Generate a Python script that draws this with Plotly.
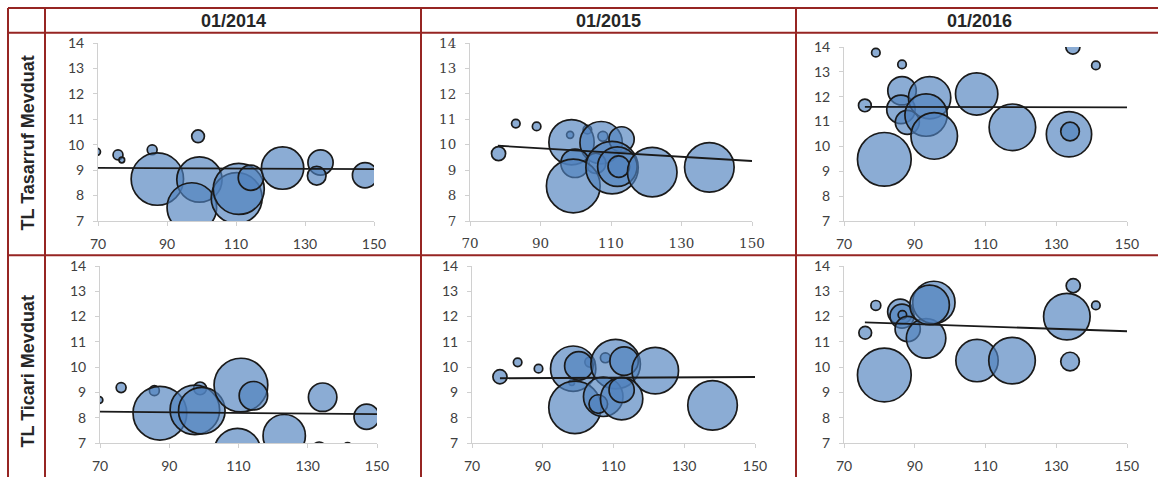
import plotly.graph_objects as go

W, H = 1158, 477

# ---------------- data ----------------
col_titles = ["01/2014", "01/2015", "01/2016"]
row_titles = ["TL Tasarruf Mevduat", "TL Ticari Mevduat"]

x_tas_2014 = [69.7, 75.8, 76.9, 85.7, 99.0, 87.2, 99.4, 97.2, 110.2, 110.8, 114.3, 123.5, 134.5, 133.4, 147.4]
y_tas_2014 = [9.72, 9.60, 9.40, 9.80, 10.33, 8.65, 8.63, 7.53, 7.90, 8.26, 8.70, 9.08, 9.30, 8.78, 8.80]
w_tas_2014 = [1.7, 3.4, 1.1, 3.4, 5.6, 95, 71, 85, 90, 90, 22, 62, 22, 12, 22]

x_tas_2015 = [78.1, 83.0, 88.9, 98.4, 103.3, 107.7, 98.8, 107.2, 113.0, 99.8, 105.7, 99.3, 110.3, 111.8, 112.2, 121.7, 137.9]
y_tas_2015 = [9.65, 10.83, 10.72, 10.39, 10.59, 10.33, 10.10, 10.08, 10.21, 9.27, 9.27, 8.38, 9.10, 9.14, 9.14, 8.92, 9.11]
w_tas_2015 = [6.9, 2.5, 2.5, 1.7, 2.5, 3.4, 71, 62, 22, 28, 14, 100, 95, 54, 16, 85, 85]

x_tas_2016 = [75.9, 79.0, 86.4, 86.4, 86.1, 87.9, 94.2, 93.2, 95.5, 81.4, 107.5, 117.6, 133.6, 133.9, 134.7, 141.2]
y_tas_2016 = [11.65, 13.77, 13.30, 12.24, 11.49, 10.97, 11.96, 11.26, 10.42, 9.48, 12.11, 10.77, 10.49, 10.60, 14.0, 13.26]
w_tas_2016 = [5.6, 2.5, 2.5, 28, 28, 20, 62, 62, 75, 100, 62, 75, 71, 12, 6.9, 2.5]

x_tic_2014 = [69.8, 76.1, 85.7, 98.9, 87.3, 97.4, 99.4, 110.7, 114.3, 134.3, 147.0, 123.2, 109.7, 133.3, 141.5]
y_tic_2014 = [8.70, 9.19, 9.07, 9.16, 8.18, 8.31, 8.28, 9.29, 8.87, 8.81, 8.04, 7.29, 6.66, 6.76, 6.85]
w_tic_2014 = [1.7, 3.4, 3.4, 5.6, 100, 85, 75, 100, 28, 28, 22, 62, 75, 6.9, 2.5]

x_tic_2015 = [77.9, 82.9, 88.8, 98.2, 103.3, 107.7, 98.6, 100.2, 110.6, 113.0, 121.8, 99.1, 107.1, 105.7, 112.3, 112.3, 138.0]
y_tic_2015 = [9.62, 10.19, 9.94, 9.39, 10.20, 10.37, 9.94, 10.05, 10.12, 10.24, 9.86, 8.41, 8.83, 8.54, 8.75, 9.10, 8.49]
w_tic_2015 = [6.9, 2.5, 2.5, 1.1, 3.4, 3.4, 71, 28, 85, 28, 75, 95, 54, 12, 62, 22, 85]

x_tic_2016 = [76.0, 79.0, 85.9, 86.4, 86.5, 88.0, 93.2, 95.4, 94.2, 81.4, 107.6, 117.5, 133.0, 133.9, 134.8, 141.2]
y_tic_2016 = [11.36, 12.44, 12.19, 12.02, 12.07, 11.51, 11.14, 12.56, 12.46, 9.69, 10.26, 10.26, 12.00, 10.22, 13.22, 12.44]
w_tic_2016 = [5.6, 3.4, 22, 20, 2.5, 22, 54, 62, 54, 100, 62, 75, 75, 12, 6.9, 2.5]

# linear trend lines (end points)
trend_tas_2014_x = [70, 150]; trend_tas_2014_y = [9.09, 9.04]
trend_tas_2015_x = [77.9, 150]; trend_tas_2015_y = [9.96, 9.36]
trend_tas_2016_x = [75.9, 150]; trend_tas_2016_y = [11.59, 11.57]
trend_tic_2014_x = [70, 150]; trend_tic_2014_y = [8.24, 8.14]
trend_tic_2015_x = [77.9, 150]; trend_tic_2015_y = [9.56, 9.61]
trend_tic_2016_x = [75.9, 150]; trend_tic_2016_y = [11.77, 11.42]

x_ticks = [70, 90, 110, 130, 150]
y_ticks = [7, 8, 9, 10, 11, 12, 13, 14]

panels = [
    (x_tas_2014, y_tas_2014, w_tas_2014, trend_tas_2014_x, trend_tas_2014_y),
    (x_tas_2015, y_tas_2015, w_tas_2015, trend_tas_2015_x, trend_tas_2015_y),
    (x_tas_2016, y_tas_2016, w_tas_2016, trend_tas_2016_x, trend_tas_2016_y),
    (x_tic_2014, y_tic_2014, w_tic_2014, trend_tic_2014_x, trend_tic_2014_y),
    (x_tic_2015, y_tic_2015, w_tic_2015, trend_tic_2015_x, trend_tic_2015_y),
    (x_tic_2016, y_tic_2016, w_tic_2016, trend_tic_2016_x, trend_tic_2016_y),
]

# ---------------- layout geometry (pixels) ----------------
plot_boxes = [
    (98, 374, 43, 221),
    (470, 752, 43, 221),
    (844, 1127, 47, 221),
    (100, 377, 266, 443),
    (472, 755, 266, 443),
    (844, 1127, 266, 443),
]

def fx(px):
    return px / W

def fy(py):
    return 1 - py / H

BUBBLE_FILL = "rgba(79,129,189,0.66)"
BUBBLE_LINE = "#1a1a1a"
AXIS_COLOR = "#d0d0d0"
TICK_FONT_COLOR = "#404040"
BORDER = "#962523"
max_w = 100
sizeref = max_w / (38.0 ** 2)

fig = go.Figure()
layout_axes = {}
for i, ((xs, ys, ws, tx, ty), (x0, x1, y0, y1)) in enumerate(zip(panels, plot_boxes)):
    n = i + 1
    xa = "x" if n == 1 else f"x{n}"
    ya = "y" if n == 1 else f"y{n}"
    fig.add_trace(go.Scatter(
        x=xs, y=ys, mode="markers", xaxis=xa, yaxis=ya,
        marker=dict(size=ws, sizemode="area", sizeref=sizeref, sizemin=1, opacity=1,
                    color=BUBBLE_FILL, line=dict(color=BUBBLE_LINE, width=1.7)),
        cliponaxis=True, showlegend=False, hoverinfo="x+y",
    ))
    fig.add_trace(go.Scatter(
        x=tx, y=ty, mode="lines", xaxis=xa, yaxis=ya,
        line=dict(color="#1a1a1a", width=1.8), showlegend=False, hoverinfo="skip",
    ))
    if n == 2:
        tfont = dict(family="DejaVu Serif", size=13.5, color=TICK_FONT_COLOR)
    else:
        tfont = dict(family="Lato", size=14, color=TICK_FONT_COLOR)
    layout_axes["xaxis" if n == 1 else f"xaxis{n}"] = dict(
        domain=[fx(x0), fx(x1)], anchor=ya, range=[70, 150],
        tickvals=x_ticks, showgrid=False, zeroline=False, automargin=False,
        showline=True, linecolor=AXIS_COLOR, linewidth=1,
        ticks="outside", ticklen=4, tickcolor=AXIS_COLOR, tickfont=tfont,
        ticklabelstandoff=6, fixedrange=True,
    )
    layout_axes["yaxis" if n == 1 else f"yaxis{n}"] = dict(
        domain=[fy(y1), fy(y0)], anchor=xa, range=[7, 14],
        tickvals=y_ticks, showgrid=False, zeroline=False, automargin=False,
        showline=True, linecolor=AXIS_COLOR, linewidth=1,
        ticks="outside", ticklen=4, tickcolor=AXIS_COLOR, tickfont=tfont,
        ticklabelstandoff=6, fixedrange=True,
    )

# table borders
shapes = []
def hline(y, xa=8, xb=1160):
    shapes.append(dict(type="line", xref="paper", yref="paper",
                       x0=fx(xa), x1=fx(xb), y0=fy(y), y1=fy(y),
                       line=dict(color=BORDER, width=2)))
def vline(x, ya=8, yb=480):
    shapes.append(dict(type="line", xref="paper", yref="paper",
                       x0=fx(x), x1=fx(x), y0=fy(ya), y1=fy(yb),
                       line=dict(color=BORDER, width=2)))

hline(8)
hline(32.7)
hline(255.3)
for vx in [8, 45, 421, 796]:
    vline(vx)

annotations = []
col_centers = [233.5, 608.5, 979]
for t, cx in zip(col_titles, col_centers):
    annotations.append(dict(text=f"<b>{t}</b>", xref="paper", yref="paper",
                            x=fx(cx), y=fy(20.5), xanchor="center", yanchor="middle",
                            showarrow=False,
                            font=dict(family="Liberation Sans", size=18, color="#262626")))
row_centers = [143.5, 371.5]
for t, cy in zip(row_titles, row_centers):
    annotations.append(dict(text=f"<b>{t}</b>", xref="paper", yref="paper",
                            x=fx(27), y=fy(cy), xanchor="center", yanchor="middle",
                            textangle=-90, showarrow=False,
                            font=dict(family="Liberation Sans", size=18, color="#262626")))

fig.update_layout(
    template="none",
    width=W, height=H, autosize=False,
    margin=dict(l=0, r=0, t=0, b=0, pad=0, autoexpand=False),
    paper_bgcolor="white", plot_bgcolor="white",
    shapes=shapes, annotations=annotations,
    **layout_axes,
)

fig.write_html(
    "out.html",
    config={"displayModeBar": False},
    post_script="document.documentElement.style.margin='0';document.body.style.margin='0';document.body.style.padding='0';document.body.style.overflow='hidden';",
)
